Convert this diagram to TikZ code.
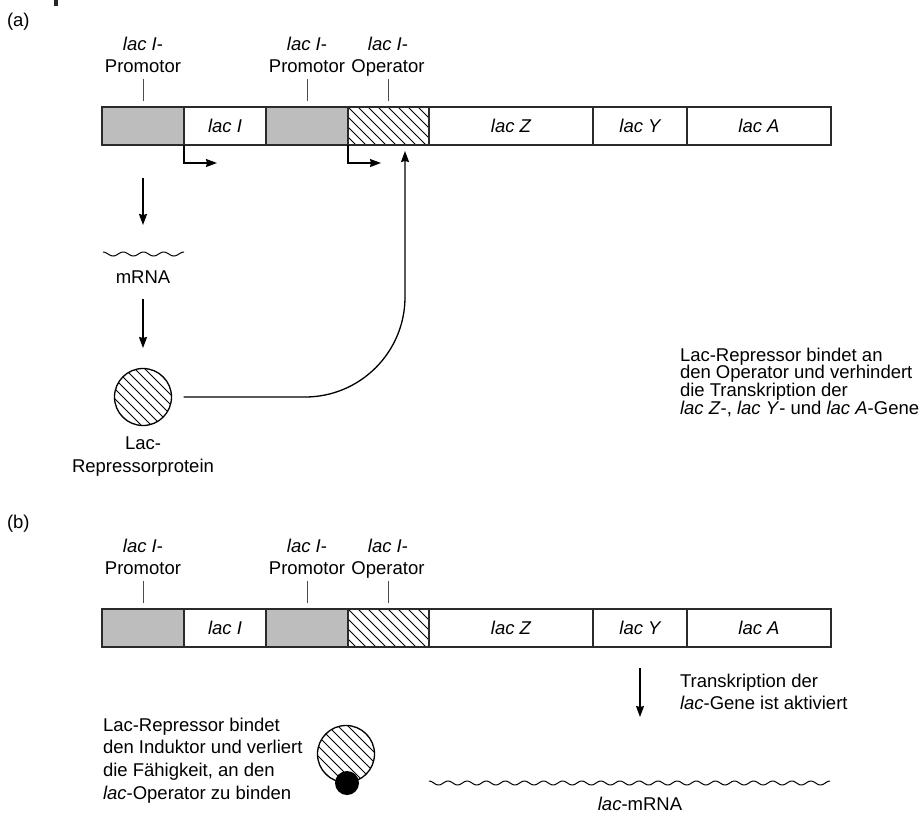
\documentclass[tikz,border=0pt]{standalone}
\usepackage{fontspec}
\setmainfont{Liberation Sans}
\usetikzlibrary{arrows.meta}
\definecolor{promgray}{HTML}{BDBDBD}
\definecolor{edge}{HTML}{2A2A2A}
\tikzset{
  txt/.style={inner sep=0pt, outer sep=0pt, font=\fontsize{18.5}{22.7}\selectfont},
  tighttxt/.style={inner sep=0pt, outer sep=0pt, font=\fontsize{18.5}{17.7}\selectfont},
  hatch/.style={path picture={\foreach \k in {-80,-70,...,100}
      \draw[line width=0.8pt, black] ([xshift=\k pt]path picture bounding box.north west) -- ++(90pt,-90pt);}},
  barseg/.style={draw=edge, line width=1.6pt, minimum height=38pt, inner sep=0pt, outer sep=0pt},
  prom/.style={barseg, fill=promgray, minimum width=82pt},
  gene/.style={barseg, fill=white, font=\fontsize{18.5}{22.7}\selectfont\itshape},
  oper/.style={barseg, fill=white, minimum width=81pt, hatch},
  tickline/.style={draw=black!70, line width=0.9pt},
  arr/.style={draw=black, line width=1.3pt, -{Stealth[length=11pt, width=8pt, inset=1pt]}},
  wave/.style={draw=black, line width=1.0pt},
  repr/.style={circle, draw=black, line width=1.3pt, minimum size=57pt, inner sep=0pt, outer sep=0pt, fill=white, hatch},
}
\newcommand\lacbar[2]{%
  \node[prom] (#1p1) at (143,#2) {};
  \node[gene, minimum width=82pt] (#1i) at (225,#2) {lac I};
  \node[prom] (#1p2) at (307,#2) {};
  \node[oper] (#1o) at (388.5,#2) {};
  \node[gene, minimum width=164pt] (#1z) at (511,#2) {lac Z};
  \node[gene, minimum width=94pt] (#1y) at (640,#2) {lac Y};
  \node[gene, minimum width=144pt] (#1a) at (759,#2) {lac A};
  \draw[tickline] ([yshift=6pt]#1p1.north) -- ++(0,22pt);
  \draw[tickline] ([yshift=6pt]#1p2.north) -- ++(0,22pt);
  \draw[tickline] ([yshift=6pt]#1o.north) -- ++(0,22pt);
  \node[txt, anchor=north, align=center] (#1l1) at (143,#2-89.3) {\textit{lac I}-\\Promotor};
  \node[txt, anchor=north, align=center] (#1l2) at (307,#2-89.3) {\textit{lac I}-\\Promotor};
  \node[txt, anchor=north, align=center] (#1l3) at (388,#2-89.3) {\textit{lac I}-\\Operator};
}
\begin{document}
\begin{tikzpicture}[x=1pt, y=-1pt]
\useasboundingbox (0,0) rectangle (922,815);
\fill[black!85] (54,0) rectangle (57.5,6);

% ---------- (a) ----------
\node[txt, anchor=north west] (lbla) at (7,13) {(a)};
\lacbar{a-}{126}

\coordinate (a-t1) at (217,163);
\coordinate (a-t2) at (381,163);
\draw[arr] (a-p1.south east) |- (a-t1);
\draw[arr] (a-p2.south east) |- (a-t2);

\coordinate (a-d1s) at (143,178);
\coordinate (a-d1e) at (143,225);
\draw[arr] (a-d1s) -- (a-d1e);

\draw[wave] plot[domain=103:184, samples=120, smooth] (\x,{254-2*cos(17.7778*(\x-103))});
\node[txt, anchor=north] (mrna) at (143,270.5) {mRNA};

\coordinate (a-d2s) at (143,299);
\coordinate (a-d2e) at (143,348);
\draw[arr] (a-d2s) -- (a-d2e);

\node[repr] (rep) at (143,397) {};
\node[txt, anchor=north, align=center] (replbl) at (143,437) {Lac-\\Repressorprotein};

\coordinate (optgt) at (405,151);
\draw[arr, rounded corners=100pt, shorten <=12pt] (rep.east) -| (optgt);

\node[tighttxt, anchor=north west, align=left] (atext) at (680,347.7)
  {Lac-Repressor bindet an\\den Operator und verhindert\\die Transkription der\\\textit{lac Z}-, \textit{lac Y}- und \textit{lac A}-Gene};

% ---------- (b) ----------
\node[txt, anchor=north west] (lblb) at (7,515) {(b)};
\lacbar{b-}{628}

\coordinate (b-d1s) at (640,668);
\coordinate (b-d1e) at (640,717);
\draw[arr] (b-d1s) -- (b-d1e);
\node[txt, anchor=north west, align=left, font=\fontsize{18.5}{22}\selectfont] (btext) at (680,673.7)
  {Transkription der\\\textit{lac}-Gene ist aktiviert};

\draw[wave] plot[domain=429:830, samples=400, smooth] (\x,{783-2*cos(18.8531*(\x-429))});
\node[txt, anchor=north] (lacmrna) at (640,797) {\textit{lac}-mRNA};

\node[repr] (repb) at (346,754) {};
\node[circle, fill=black, minimum size=24pt, inner sep=0pt] (ind) at (347,783) {};

\node[txt, anchor=north west, align=left] (bleft) at (103,717.7)
  {Lac-Repressor bindet\\den Induktor und verliert\\die Fähigkeit, an den\\\textit{lac}-Operator zu binden};
\end{tikzpicture}
\end{document}
